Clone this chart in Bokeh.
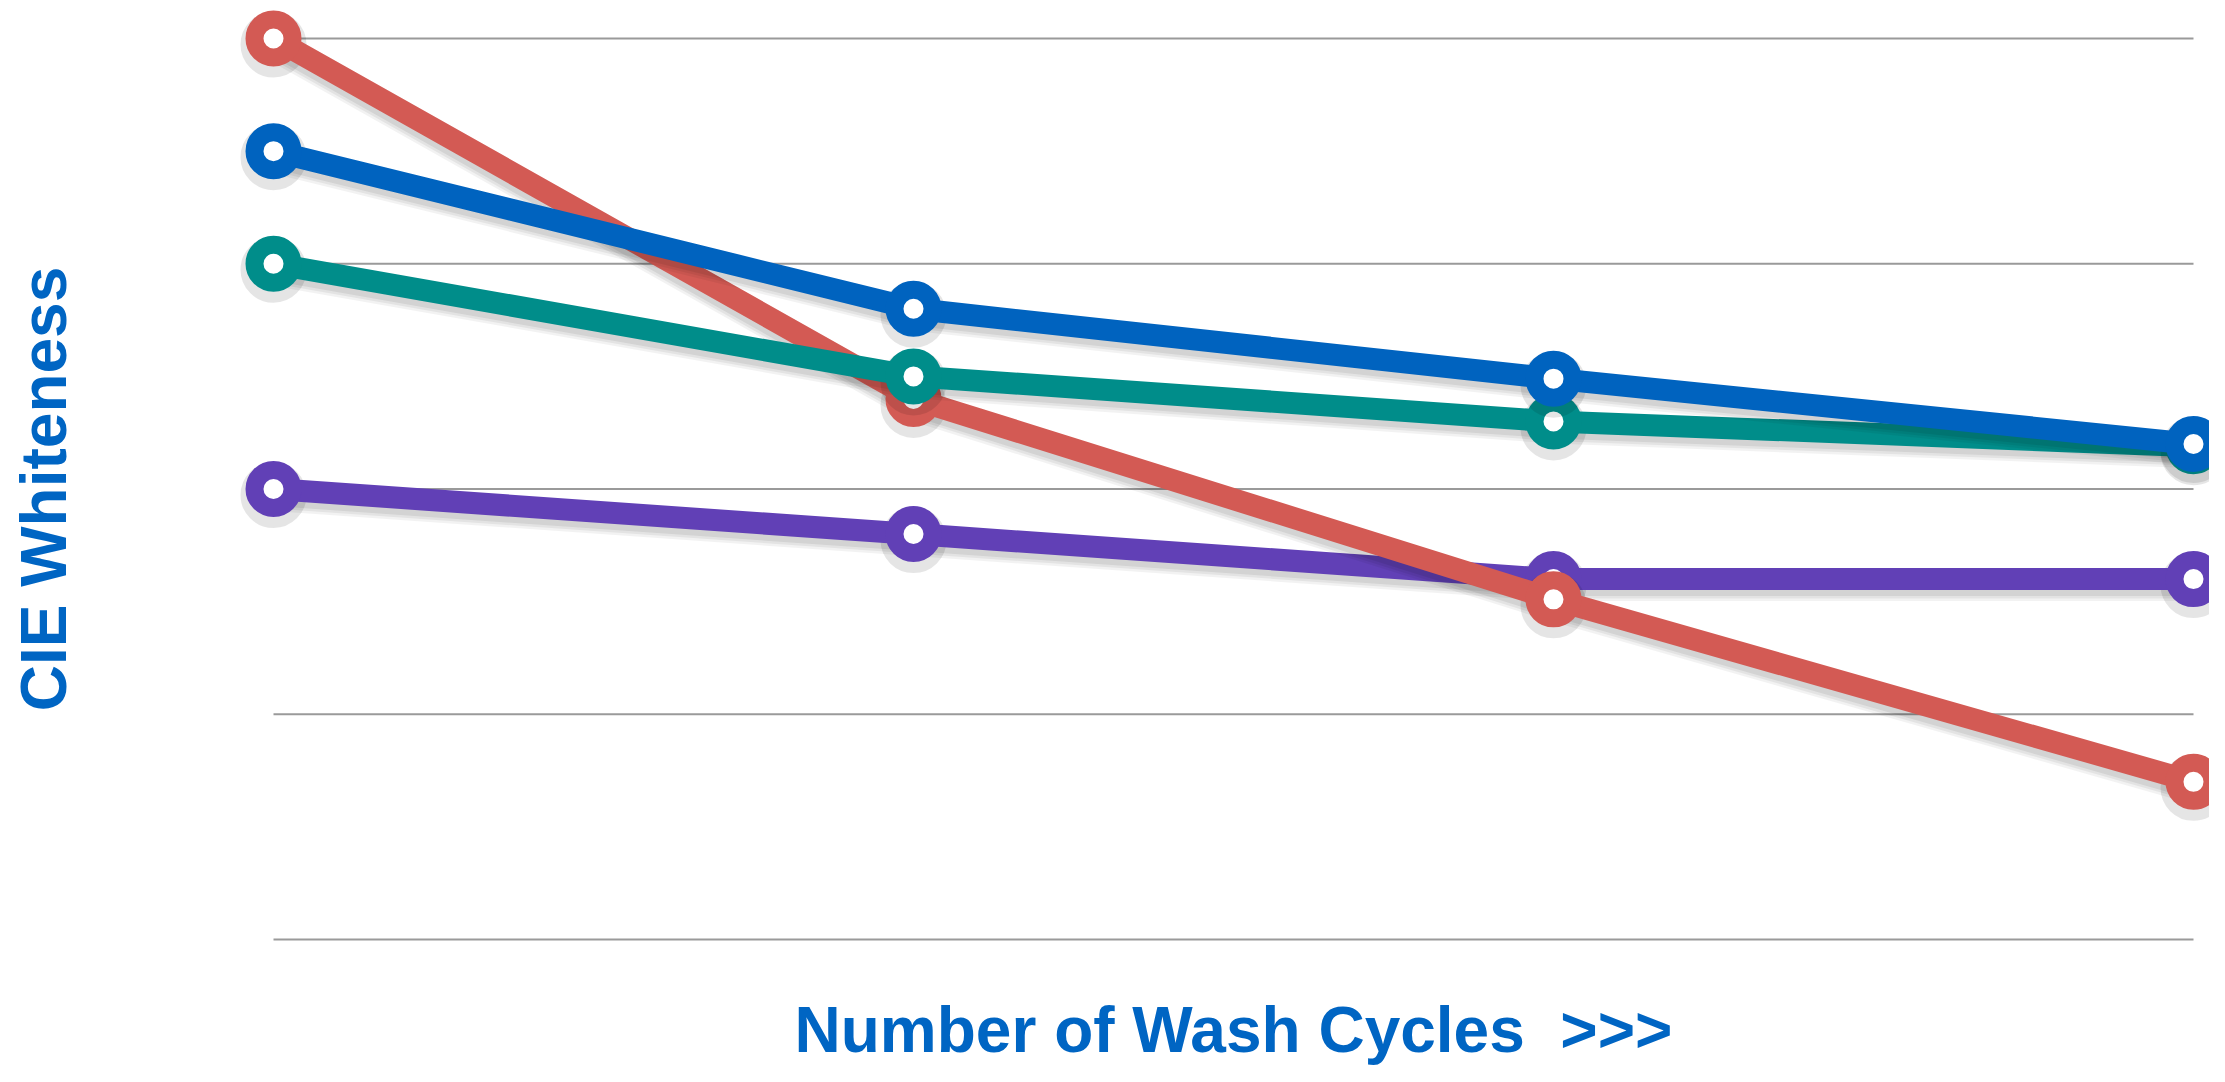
import math
from bokeh.plotting import figure
from bokeh.models import Range1d, Label
from bokeh.embed import file_html
from bokeh.resources import INLINE

# ---- data ----
wash_steps = [0, 1, 2, 3]
grid_levels = [0, 1, 2, 3, 4]
red_values = [4.00, 2.40, 1.51, 0.70]
blue_values = [3.50, 2.80, 2.49, 2.20]
teal_values = [3.00, 2.50, 2.30, 2.19]
purple_values = [2.00, 1.80, 1.60, 1.60]

x_title = "Number of Wash Cycles\u00a0\u00a0>>>"
y_title = "CIE Whiteness"

# ---- style ----
W, H = 2209, 1066
PX_X = 640.0      # px per x unit
PX_Y = 225.25     # px per y unit
X0_PX = 273       # figure x of first step
Y4_PX = 38        # figure y (from top) of top grid level

x_start = -X0_PX / PX_X
x_end = x_start + W / PX_X
y_end = grid_levels[-1] + Y4_PX / PX_Y
y_start = y_end - H / PX_Y

p = figure(width=W, height=H, output_backend="svg", toolbar_location=None,
           x_axis_type=None, y_axis_type=None,
           x_range=Range1d(x_start, x_end), y_range=Range1d(y_start, y_end),
           min_border=0, min_border_left=0, min_border_right=0,
           min_border_top=0, min_border_bottom=0)
p.outline_line_color = None
p.background_fill_color = "white"
p.border_fill_color = "white"
p.xgrid.visible = False
p.ygrid.visible = False

# grid lines spanning the data range
p.segment(x0=[wash_steps[0]] * len(grid_levels), x1=[wash_steps[-1]] * len(grid_levels),
          y0=grid_levels, y1=grid_levels, line_color="#9a9a9a", line_width=2)

series = [
    (purple_values, "#6140b6"),
    (red_values, "#d35a54"),
    (teal_values, "#008d8a"),
    (blue_values, "#0063bf"),
]

shadow_dy = 6 / PX_Y
for vals, col in series:
    sh = [v - shadow_dy for v in vals]
    for w, a in ((32, 0.05), (27, 0.06), (22, 0.07)):
        p.line(wash_steps, sh, line_color="black", line_alpha=a, line_width=w,
               line_join="round")
    p.scatter(wash_steps, sh, size=42, fill_color=None, line_color="black",
              line_alpha=0.10, line_width=24)
    p.line(wash_steps, vals, line_color=col, line_width=22, line_join="round")
    p.scatter(wash_steps, vals, size=38, fill_color="white", line_color=col,
              line_width=18)

title_color = "#0065c3"
lbl_y = Label(x=x_start + 43 / PX_X, y=2.0, text=y_title, angle=math.pi / 2,
              text_align="center", text_baseline="middle",
              text_font="Liberation Sans", text_font_style="bold",
              text_font_size="64px", text_color=title_color)
lbl_x = Label(x=(wash_steps[0] + wash_steps[-1]) / 2, y=grid_levels[0] - 54 / PX_Y,
              text=x_title, text_align="center", text_baseline="top",
              text_font="Liberation Sans", text_font_style="bold",
              text_font_size="64px", text_color=title_color)
p.add_layout(lbl_y)
p.add_layout(lbl_x)

open("out.html", "w").write(file_html(p, INLINE))
